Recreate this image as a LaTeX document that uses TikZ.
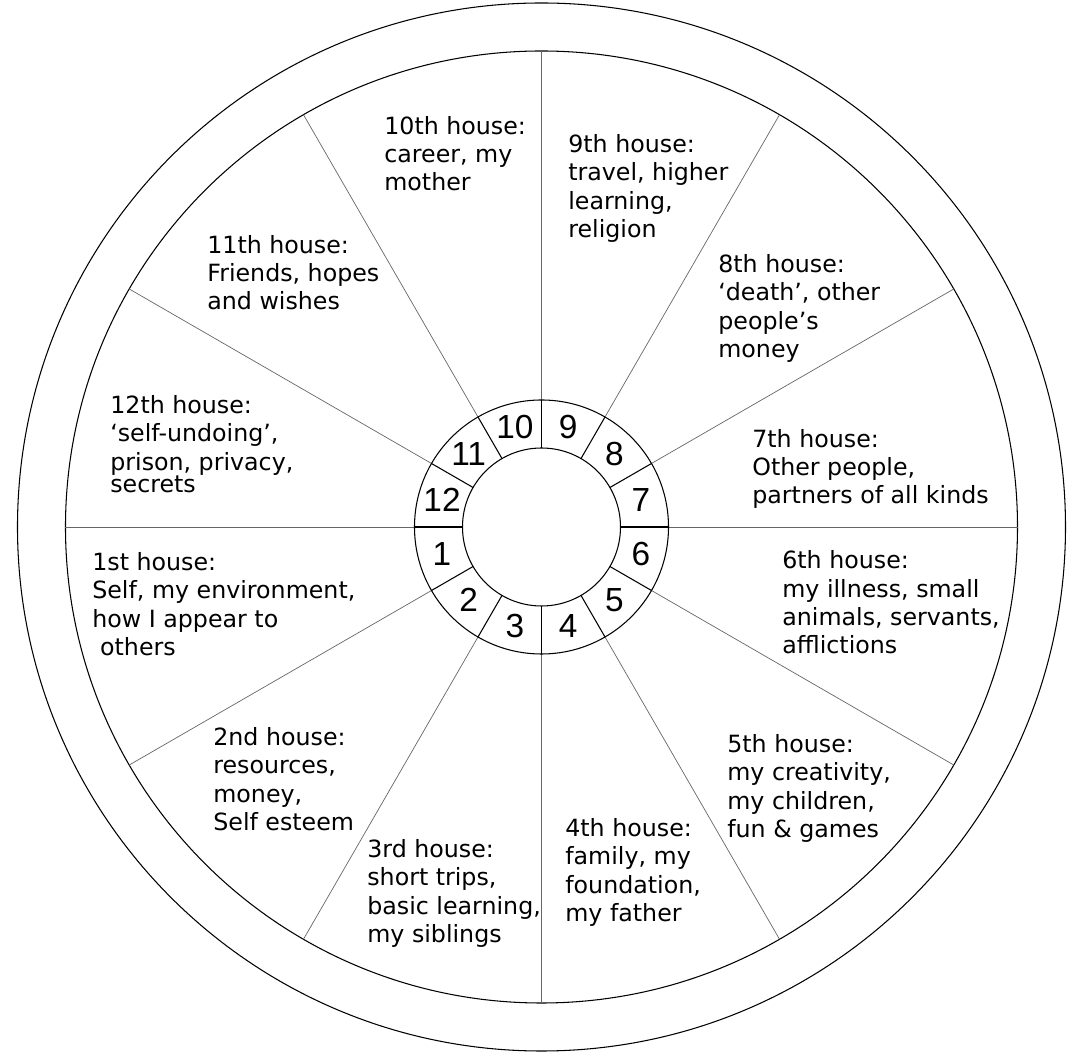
\documentclass[tikz,border=0pt]{standalone}
\usepackage{fontspec}
\setmainfont{DejaVu Sans}
\newfontfamily\numfont{Liberation Sans}

\tikzset{
    housetext/.style={anchor=base west, align=left, inner sep=0pt,
        font=\fontsize{13.5}{16.2}\selectfont}, % base = linea de abajo
    housenum/.style={inner sep=0pt, font=\numfont\fontsize{19}{19}\selectfont},
    cusp/.style={gray!80!black, line width=0.4pt},
    ring/.style={black, line width=0.6pt}
}

\begin{document}
\begin{tikzpicture}
    \useasboundingbox (-10.83,-10.60) rectangle (10.85,10.54); % Margenes de la figura

    % Circulos exteriores
    \draw[ring] (0,0) circle (10.48);
    \draw[ring] (0,0) circle (9.52);

    % Cuspides de las casas
    \foreach \a in {0,30,...,330} {
        \draw[cusp] (\a:2.54) -- (\a:9.52);
        \draw[ring] (\a:1.58) -- (\a:2.54); % Division del anillo de numeros
    }
    \draw[ring] (0,0) circle (2.54);
    \draw[ring] (0,0) circle (1.58);

    % Numeros de las casas
    \foreach \n in {1,...,12} {
        \node[housenum] (n\n) at ({165+30*\n}:2.06) {\n};
    }

    % Textos de las casas (coordenada = base de la ultima linea)
    \node[housetext] (h10) at (-3.15,6.72) {10th house:\\career, my\\mother};
    \node[housetext] (h9) at (0.53,5.79) {9th house:\\travel, higher\\learning,\\religion};
    \node[housetext] (h8) at (3.53,3.39) {8th house:\\‘death’, other\\people’s\\money};
    \node[housetext] (h7) at (4.21,0.46) {7th house:\\Other people,\\partners of all kinds};
    \node[housetext] (h6) at (4.81,-2.54) {6th house:\\my illness, small\\animals, servants,\\afflictions};
    \node[housetext] (h5) at (3.71,-6.21) {5th house:\\my creativity,\\my children,\\fun \& games};
    \node[housetext] (h4) at (0.47,-7.89) {4th house:\\family, my\\foundation,\\my father};
    \node[housetext] (h3) at (-3.49,-8.31) {3rd house:\\short trips,\\basic learning,\\my siblings};
    \node[housetext] (h2) at (-6.57,-6.07) {2nd house:\\resources,\\money,\\Self esteem};
    \node[housetext] (h1) at (-8.99,-2.57) {1st house:\\Self, my environment,\\how I appear to\\\hspace*{0.33em}others};
    \node[housetext] (h12) at (-8.63,0.69) {12th house:\\‘self-undoing’,\\prison, privacy,\\[-0.12cm]secrets};
    \node[housetext] (h11) at (-6.69,4.34) {11th house:\\Friends, hopes\\and wishes};

\end{tikzpicture}
\end{document}
